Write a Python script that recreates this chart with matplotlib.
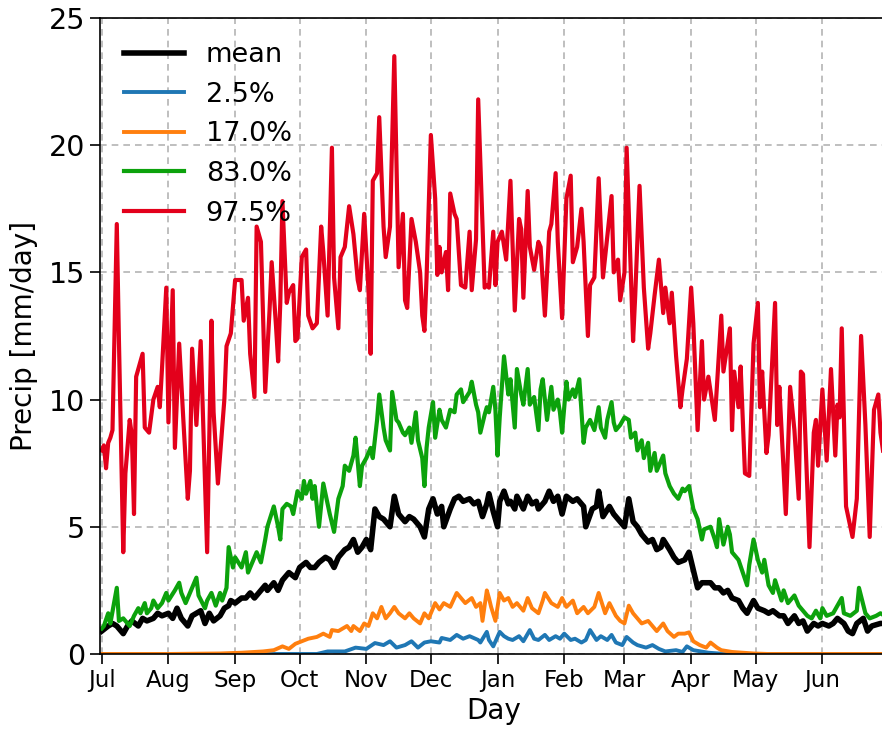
import numpy as np
import matplotlib
matplotlib.use("Agg")
import matplotlib.pyplot as plt

# Daily precipitation climatology (day counted from 1 July), mm/day
month_labels = ["Jul", "Aug", "Sep", "Oct", "Nov", "Dec",
                "Jan", "Feb", "Mar", "Apr", "May", "Jun"]
month_start = [0, 31, 62, 92, 123, 153, 184, 215, 243, 274, 304, 335]

mean_pts = [
    (0, 0.9), (3, 1.1), (5, 1.2), (7, 1.1), (10, 0.8), (12, 1.1), (14, 1.3), (17, 1.1),
    (19, 1.4), (21, 1.3), (24, 1.4), (26, 1.6), (28, 1.5), (31, 1.6), (33, 1.4), (35, 1.8),
    (37, 1.4), (40, 1.1), (42, 1.5), (44, 1.6), (46, 1.7), (48, 1.2), (50, 1.6), (52, 1.3),
    (55, 1.5), (57, 1.8), (59, 1.9), (60, 2.1), (62, 2.0), (65, 2.2), (67, 2.2), (69, 2.4),
    (71, 2.2), (74, 2.5), (76, 2.7), (77, 2.5), (80, 2.8), (82, 2.5), (84, 2.9), (87, 3.2),
    (90, 3.0), (92, 3.4), (95, 3.6), (97, 3.4), (99, 3.4), (101, 3.6), (104, 3.8), (106, 3.7),
    (108, 3.4), (110, 3.8), (113, 4.1), (115, 4.2), (117, 4.5), (119, 4.0), (121, 4.2),
    (123, 4.5), (125, 4.1), (127, 5.7), (129, 5.4), (131, 5.3), (134, 5.0), (136, 6.2),
    (138, 5.5), (141, 5.2), (143, 5.4), (145, 5.3), (148, 5.0), (150, 4.6), (152, 5.7),
    (154, 6.1), (156, 5.5), (158, 5.8), (159, 5.0), (162, 5.7), (164, 6.1), (166, 6.2),
    (168, 6.0), (171, 6.1), (173, 5.9), (175, 6.0), (177, 5.4), (179, 5.9), (180, 6.3),
    (182, 5.6), (184, 5.0), (185, 6.0), (187, 6.4), (189, 5.9), (190, 6.0), (192, 5.7),
    (193, 6.2), (196, 5.7), (198, 6.2), (200, 5.9), (202, 6.0), (203, 5.7), (206, 6.0),
    (208, 6.4), (210, 6.0), (212, 6.2), (214, 5.5), (216, 6.2), (219, 6.0), (221, 6.1),
    (224, 5.8), (225, 5.0), (228, 5.7), (230, 5.8), (231, 6.4), (233, 5.4), (236, 5.8),
    (238, 5.5), (241, 5.2), (243, 5.0), (245, 6.1), (247, 5.2), (249, 5.0), (251, 4.7),
    (254, 4.4), (256, 4.5), (258, 4.1), (260, 4.2), (261, 4.5), (264, 4.1), (266, 3.8),
    (268, 3.6), (271, 3.7), (273, 4.0), (275, 3.3), (277, 2.6), (279, 2.8), (283, 2.8),
    (285, 2.6), (287, 2.6), (289, 2.4), (291, 2.5), (293, 2.2), (296, 2.1), (298, 1.8),
    (300, 1.6), (303, 2.1), (305, 1.8), (308, 1.7), (310, 1.6), (312, 1.7), (315, 1.5),
    (317, 1.5), (319, 1.2), (322, 1.5), (324, 1.2), (326, 1.3), (328, 0.9), (331, 1.2),
    (333, 1.1), (335, 1.2), (338, 1.1), (340, 1.2), (342, 1.4), (345, 1.2), (347, 0.9),
    (349, 0.8), (351, 1.2), (354, 1.4), (356, 0.9), (358, 1.1), (362, 1.2), (364, 1.2),
]

p025_pts = [
    (0, 0.0), (100, 0.0), (105, 0.1), (113, 0.1), (118, 0.25), (123, 0.2), (127, 0.43),
    (131, 0.35), (134, 0.5), (137, 0.25), (141, 0.35), (144, 0.5), (147, 0.25), (150, 0.45),
    (153, 0.5), (157, 0.45), (158, 0.63), (162, 0.55), (165, 0.75), (168, 0.6), (171, 0.7),
    (175, 0.55), (176, 0.45), (179, 0.87), (180, 0.55), (182, 0.3), (185, 0.87), (187, 0.7),
    (189, 0.6), (191, 0.55), (194, 0.7), (196, 0.5), (199, 0.94), (201, 0.6), (203, 0.55),
    (206, 0.75), (208, 0.55), (211, 0.7), (213, 0.6), (215, 0.8), (218, 0.55), (220, 0.6),
    (223, 0.45), (225, 0.55), (227, 0.94), (230, 0.55), (232, 0.7), (235, 0.55), (237, 0.75),
    (239, 0.45), (242, 0.35), (244, 0.67), (247, 0.45), (249, 0.35), (253, 0.25), (256, 0.35),
    (259, 0.2), (262, 0.1), (267, 0.15), (270, 0.08), (272, 0.3), (275, 0.15), (282, 0.05),
    (290, 0.0), (364, 0.0),
]

p170_pts = [
    (0, 0.0), (30, 0.0), (55, 0.02), (65, 0.05), (75, 0.1), (80, 0.15), (84, 0.3), (87, 0.2),
    (90, 0.4), (93, 0.5), (96, 0.6), (100, 0.67), (103, 0.8), (106, 0.67), (107, 0.94),
    (110, 0.9), (114, 1.1), (116, 0.9), (117, 1.1), (120, 0.9), (122, 1.2), (124, 1.1),
    (126, 1.6), (128, 1.4), (130, 1.85), (132, 1.4), (134, 1.6), (136, 1.85), (138, 1.6),
    (141, 1.4), (143, 1.6), (145, 1.4), (148, 1.2), (150, 1.6), (152, 1.4), (155, 2.0),
    (157, 1.75), (159, 2.0), (162, 1.85), (165, 2.4), (167, 2.2), (169, 2.0), (172, 2.2),
    (174, 1.85), (176, 2.0), (177, 1.3), (179, 2.5), (180, 2.2), (181, 1.85), (183, 1.3),
    (185, 2.4), (187, 2.1), (189, 2.2), (191, 1.85), (193, 2.0), (196, 1.7), (198, 2.2),
    (200, 1.8), (203, 1.6), (205, 2.1), (206, 2.4), (209, 2.0), (212, 1.85), (214, 2.2),
    (216, 1.85), (219, 2.1), (221, 1.6), (224, 1.85), (226, 1.6), (229, 1.85), (231, 2.4),
    (234, 1.6), (236, 2.0), (239, 1.5), (241, 1.3), (243, 1.2), (245, 1.9), (247, 1.6),
    (249, 1.4), (251, 1.2), (254, 1.3), (256, 1.1), (258, 0.9), (261, 1.2), (263, 0.9),
    (266, 0.67), (268, 0.8), (271, 0.8), (273, 0.85), (275, 0.5), (278, 0.35), (281, 0.25),
    (283, 0.45), (286, 0.25), (288, 0.15), (293, 0.08), (298, 0.05), (303, 0.02), (310, 0.0),
    (364, 0.0),
]

p830_pts = [
    (0, 1.0), (1, 1.1), (3, 1.6), (4, 1.2), (7, 2.6), (8, 1.3), (10, 1.4), (13, 1.1),
    (15, 1.5), (17, 1.8), (18, 1.6), (20, 2.0), (21, 1.6), (23, 1.8), (24, 2.1), (26, 1.8),
    (28, 2.0), (30, 2.4), (31, 2.1), (34, 2.5), (36, 2.8), (37, 2.4), (39, 2.0), (41, 2.4),
    (44, 3.0), (45, 2.3), (48, 1.8), (49, 2.1), (51, 2.4), (53, 1.9), (55, 2.4), (56, 2.1),
    (58, 2.6), (59, 4.2), (61, 3.4), (62, 3.8), (65, 3.4), (67, 4.0), (68, 3.2), (71, 3.8),
    (72, 4.0), (74, 3.6), (76, 4.5), (77, 5.0), (80, 5.8), (82, 5.0), (83, 4.5), (84, 5.7),
    (86, 5.9), (88, 5.8), (89, 5.5), (91, 6.4), (93, 6.1), (94, 6.8), (95, 6.3), (97, 6.8),
    (98, 6.1), (99, 6.6), (101, 5.0), (103, 6.7), (104, 6.3), (106, 5.5), (108, 4.8),
    (110, 6.1), (112, 6.6), (113, 7.4), (115, 7.2), (117, 7.8), (118, 8.5), (120, 6.6),
    (121, 7.4), (123, 7.7), (125, 8.1), (126, 7.7), (128, 9.2), (129, 10.2), (131, 8.9),
    (132, 8.4), (134, 8.0), (135, 10.3), (137, 9.2), (138, 9.1), (140, 8.7), (141, 8.6),
    (143, 8.9), (144, 8.3), (146, 9.5), (147, 8.4), (149, 7.7), (150, 6.6), (151, 8.1),
    (152, 8.9), (154, 9.9), (155, 8.5), (157, 9.6), (158, 9.2), (160, 8.9), (162, 9.6),
    (164, 9.5), (165, 10.2), (167, 10.4), (168, 9.9), (171, 10.3), (172, 10.7), (174, 9.8),
    (175, 9.5), (176, 8.7), (178, 9.4), (179, 9.7), (180, 9.5), (182, 10.5), (183, 9.6),
    (184, 7.8), (185, 9.3), (187, 11.7), (189, 10.2), (190, 10.8), (192, 8.9), (193, 11.2),
    (195, 10.2), (196, 9.8), (198, 11.2), (199, 9.8), (201, 10.1), (203, 8.8), (204, 10.4),
    (205, 10.8), (207, 9.2), (209, 10.5), (210, 9.6), (212, 10.0), (213, 9.5), (214, 8.7),
    (216, 10.7), (217, 10.0), (219, 10.4), (220, 10.1), (222, 10.8), (224, 8.3), (225, 8.9),
    (227, 9.2), (229, 8.8), (231, 9.7), (232, 8.9), (234, 8.5), (235, 9.2), (237, 9.9),
    (238, 9.1), (239, 8.8), (241, 9.0), (243, 9.3), (245, 9.2), (246, 8.5), (248, 8.7),
    (249, 8.0), (251, 8.4), (252, 7.7), (254, 8.3), (255, 7.2), (257, 7.9), (258, 7.2),
    (261, 7.8), (262, 7.1), (264, 6.6), (266, 6.3), (268, 6.1), (270, 6.5), (271, 6.4),
    (273, 6.6), (275, 5.7), (277, 5.3), (279, 4.5), (280, 4.9), (283, 5.0), (285, 4.5),
    (286, 4.2), (287, 5.3), (289, 4.3), (291, 5.0), (292, 4.7), (293, 4.0), (296, 3.7),
    (298, 3.2), (300, 2.7), (301, 3.5), (303, 4.5), (305, 3.7), (307, 3.2), (308, 3.7),
    (310, 2.7), (312, 2.4), (313, 2.9), (316, 2.1), (317, 2.5), (319, 2.0), (322, 2.3),
    (324, 1.9), (326, 1.7), (328, 1.5), (330, 1.4), (332, 1.7), (334, 1.4), (335, 1.8),
    (337, 1.5), (340, 1.6), (342, 1.9), (344, 2.2), (345, 1.6), (348, 1.5), (351, 1.7),
    (352, 2.6), (355, 1.6), (357, 1.4), (360, 1.5), (362, 1.6), (364, 1.5),
]

p975_pts = [
    (0, 8.0), (1, 8.2), (2, 7.3), (3, 8.3), (4, 8.5), (5, 8.8), (7, 16.9), (8, 12.3),
    (10, 4.0), (11, 7.1), (13, 9.2), (14, 8.6), (15, 5.5), (16, 10.9), (19, 11.8), (20, 8.9),
    (22, 8.7), (24, 10.0), (26, 10.5), (27, 9.7), (28, 11.2), (30, 14.4), (31, 9.1),
    (33, 14.3), (34, 8.1), (36, 12.2), (38, 9.1), (40, 6.1), (41, 7.2), (42, 12.0), (44, 9.0),
    (46, 12.3), (49, 4.0), (51, 13.1), (52, 9.5), (54, 6.7), (57, 10.0), (58, 12.1),
    (60, 12.6), (62, 14.7), (65, 14.7), (66, 13.1), (68, 14.0), (69, 11.8), (71, 10.1),
    (72, 16.8), (74, 16.2), (76, 10.3), (78, 13.5), (79, 15.4), (81, 12.9), (82, 11.5),
    (83, 13.8), (84, 17.8), (86, 13.8), (87, 14.2), (89, 14.5), (90, 12.3), (91, 12.4),
    (93, 15.6), (95, 15.9), (96, 13.3), (98, 12.8), (100, 13.0), (102, 16.8), (103, 15.8),
    (105, 13.3), (107, 19.9), (108, 14.8), (110, 12.8), (111, 15.6), (113, 16.0), (115, 17.6),
    (117, 16.5), (118, 15.6), (119, 14.7), (120, 14.3), (122, 17.3), (124, 14.3), (125, 11.8),
    (126, 18.6), (128, 18.9), (129, 21.1), (131, 16.8), (132, 15.6), (134, 16.8), (136, 23.5),
    (138, 15.2), (140, 17.3), (141, 13.9), (142, 13.6), (144, 17.1), (146, 16.2), (148, 15.0),
    (149, 13.3), (150, 12.7), (151, 14.8), (153, 20.4), (155, 17.9), (156, 14.9), (157, 16.0),
    (158, 15.0), (160, 15.8), (161, 14.3), (162, 18.1), (164, 17.3), (165, 17.1), (167, 14.5),
    (169, 14.4), (171, 16.6), (172, 14.3), (174, 16.3), (175, 21.8), (177, 16.9), (178, 14.4),
    (179, 14.5), (180, 14.4), (182, 16.6), (183, 14.5), (184, 16.2), (186, 16.6), (188, 15.5),
    (190, 18.6), (192, 13.5), (194, 17.1), (195, 16.7), (196, 14.0), (198, 18.2), (199, 16.0),
    (201, 15.1), (203, 16.2), (204, 16.0), (206, 13.3), (208, 16.6), (209, 16.9), (211, 18.9),
    (212, 16.2), (214, 13.2), (216, 17.9), (218, 18.8), (219, 15.4), (221, 16.0), (223, 17.5),
    (224, 16.2), (226, 12.5), (227, 14.5), (229, 14.8), (231, 18.7), (233, 14.8), (234, 15.6),
    (237, 18.0), (238, 15.0), (240, 15.5), (241, 13.9), (243, 15.0), (244, 19.9), (247, 12.3),
    (248, 14.1), (250, 18.4), (252, 14.4), (254, 12.0), (255, 12.6), (257, 14.1), (259, 15.5),
    (261, 13.4), (262, 14.4), (264, 13.0), (265, 14.2), (267, 11.7), (269, 9.7), (270, 10.4),
    (272, 11.6), (274, 14.4), (275, 13.0), (277, 8.8), (279, 12.3), (280, 10.0), (282, 10.9),
    (285, 9.2), (288, 13.3), (289, 11.1), (292, 12.8), (293, 8.8), (294, 11.1), (296, 9.7),
    (297, 11.3), (299, 7.1), (301, 7.0), (303, 12.2), (305, 13.8), (306, 9.7), (307, 11.1),
    (309, 7.9), (310, 8.6), (313, 13.8), (314, 9.0), (315, 10.5), (318, 5.5), (320, 10.5),
    (322, 8.8), (324, 6.1), (325, 11.1), (326, 11.0), (329, 4.2), (331, 8.7), (332, 9.2),
    (333, 7.4), (335, 10.4), (337, 7.6), (339, 11.2), (341, 7.8), (342, 9.8), (343, 9.3),
    (344, 12.8), (346, 5.8), (349, 4.6), (351, 6.1), (353, 12.5), (355, 9.0), (357, 4.6),
    (359, 9.6), (361, 10.2), (362, 8.7), (364, 7.5),
]

series = [
    ("mean", mean_pts, "black", 4.0),
    ("2.5%", p025_pts, "#1f77b4", 2.8),
    ("17.0%", p170_pts, "#ff7f0e", 2.8),
    ("83.0%", p830_pts, "#0ca20c", 3.0),
    ("97.5%", p975_pts, "#e3001b", 3.0),
]

fig = plt.figure(figsize=(8.82, 7.33), dpi=100)
ax = fig.add_axes([0.1134, 0.1078, 0.8934, 0.8677])

for label, pts, color, lw in series:
    d, v = np.array(pts, dtype=float).T
    ax.plot(d, v, color=color, lw=lw, label=label, solid_joinstyle="round")

ax.set_xlim(-0.8, 365.5)
ax.set_ylim(0, 25)
ax.set_xticks(month_start)
ax.set_xticklabels(month_labels)
ax.set_yticks([0, 5, 10, 15, 20, 25])

ax.grid(True, linestyle=(0, (4, 3)), color="#b4b4b4", lw=1.2)
ax.set_axisbelow(True)
ax.tick_params(axis="y", labelsize=20.5, length=7, width=1.2)
ax.tick_params(axis="x", labelsize=16.5, length=7, width=1.2)
for s in ax.spines.values():
    s.set_linewidth(1.2)

ax.set_xlabel("Day", fontsize=20)
ax.set_ylabel("Precip [mm/day]", fontsize=20, labelpad=8)

ax.legend(loc="upper left", fontsize=19.5, frameon=False, handlelength=2.2)

fig.savefig("out.png", dpi=100)
